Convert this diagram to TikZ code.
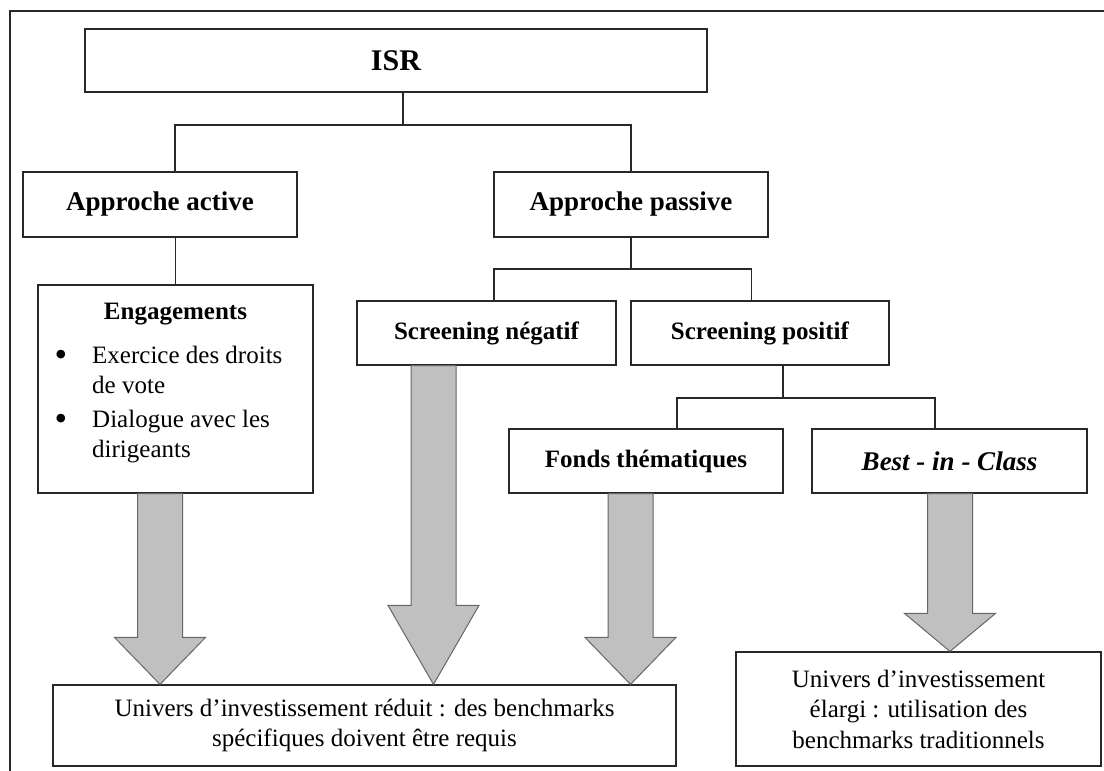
\documentclass[tikz,border=0pt]{standalone}
\usepackage{fontspec}
\setmainfont{Liberation Serif}
\usetikzlibrary{calc}
\definecolor{arrowfill}{RGB}{192,192,192}
\definecolor{linecol}{RGB}{40,40,40}
\tikzset{
  conn/.style={draw=linecol, line width=1.2pt},
  box/.style={draw=linecol, line width=1.2pt, inner sep=0pt, fill=white, align=center},
  reg/.style={font=\fontsize{25}{30.5}\selectfont},
  bul/.style={font=\fontsize{36}{36}\selectfont, anchor=base, inner sep=0pt},
  hb/.style={font=\fontsize{25}{30}\selectfont\bfseries},
  hbl/.style={font=\fontsize{27}{32}\selectfont\bfseries},
  hbi/.style={font=\fontsize{27}{32}\selectfont\bfseries\itshape},
  htop/.style={font=\fontsize{30}{36}\selectfont\bfseries},
  bigarrow/.style={draw=black!60, line width=1pt, fill=arrowfill, line join=miter},
}
% #1 source node, #2 target node, #3 x-centre coordinate name, #4 neck height above tip
\newcommand\blockarrow[4]{%
  \path[bigarrow]
    ($(#3 |- #1.south)+(-22.5,0)$) -- ($(#3 |- #1.south)+(22.5,0)$)
    -- ($(#3 |- #2.north)+(22.5,-#4)$) -- ($(#3 |- #2.north)+(45.5,-#4)$)
    -- (#3 |- #2.north)
    -- ($(#3 |- #2.north)+(-45.5,-#4)$) -- ($(#3 |- #2.north)+(-22.5,-#4)$) -- cycle;}
\begin{document}
\begin{tikzpicture}[x=1pt,y=-1pt]
\useasboundingbox (0,0) rectangle (1104,771);
% outer frame
\draw[conn] (10,771) -- (10,11) -- (1104,11);

% boxes
\node[box, htop, minimum width=622pt, minimum height=63pt] (isr) at (396,60.5) {ISR};
\node[box, hbl, minimum width=274pt, minimum height=65pt] (act) at (160,204.5) {Approche active};
\node[box, hbl, minimum width=274pt, minimum height=65pt] (pas) at (631,204.5) {Approche passive};
\node[box, minimum width=275pt, minimum height=208pt] (eng) at (175.5,389) {};
\node[box, hb, minimum width=259pt, minimum height=64pt] (neg) at (486.5,333) {Screening négatif};
\node[box, hb, minimum width=258pt, minimum height=64pt] (pos) at (760,333) {Screening positif};
\node[box, hb, minimum width=274pt, minimum height=64pt] (fon) at (646,461) {Fonds thématiques};
\node[box, hbi, minimum width=275pt, minimum height=64pt] (bic) at (949.5,461) {Best - in - Class};
\node[box, reg, minimum width=623pt, minimum height=81pt] (red) at (364.5,725.5)
  {Univers d’investissement réduit : des benchmarks\\spécifiques doivent être requis};
\node[box, reg, minimum width=365pt, minimum height=114pt] (ela) at (918.5,709)
  {Univers d’investissement\\élargi : utilisation des\\benchmarks traditionnels};

% Engagements content
\node[hb, anchor=base, inner sep=0pt] (engt) at (175.5,319) {Engagements};
\node[bul] (b1) at (61,366) {\textbullet};
\node[reg, anchor=base west, inner sep=0pt] (l1) at (92,363) {Exercice des droits};
\node[reg, anchor=base west, inner sep=0pt] (l2) at (92,393) {de vote};
\node[bul] (b2) at (61,430) {\textbullet};
\node[reg, anchor=base west, inner sep=0pt] (l3) at (92,427) {Dialogue avec les};
\node[reg, anchor=base west, inner sep=0pt] (l4) at (92,457) {dirigeants};

% tree connectors
\coordinate (j1) at (403,125);
\coordinate (h1l) at (175,125);
\coordinate (h1r) at (631,125);
\draw[conn] (isr.south -| j1) -- (j1);
\draw[conn] (act.north -| h1l) |- (h1r) -- (pas.north);
\draw[conn] (act.south -| eng.north) -- (eng.north);

\coordinate (h2l) at (494,269);
\coordinate (h2r) at (751.5,269);
\draw[conn] (pas.south) -- (pas.south |- h2l);
\draw[conn] (neg.north -| h2l) |- (h2r) -- (pos.north -| h2r);

\coordinate (j3) at (783,398);
\coordinate (h3l) at (677,398);
\coordinate (h3r) at (935,398);
\draw[conn] (pos.south -| j3) -- (j3);
\draw[conn] (fon.north -| h3l) |- (h3r) -- (bic.north -| h3r);

% block arrows
\coordinate (a1) at (160,0);
\coordinate (a2) at (433.5,0);
\coordinate (a3) at (630.5,0);
\coordinate (a4) at (950,0);
\blockarrow{eng}{red}{a1}{47}
\blockarrow{neg}{red}{a2}{79}
\blockarrow{fon}{red}{a3}{47}
\blockarrow{bic}{ela}{a4}{38}
\end{tikzpicture}
\end{document}
